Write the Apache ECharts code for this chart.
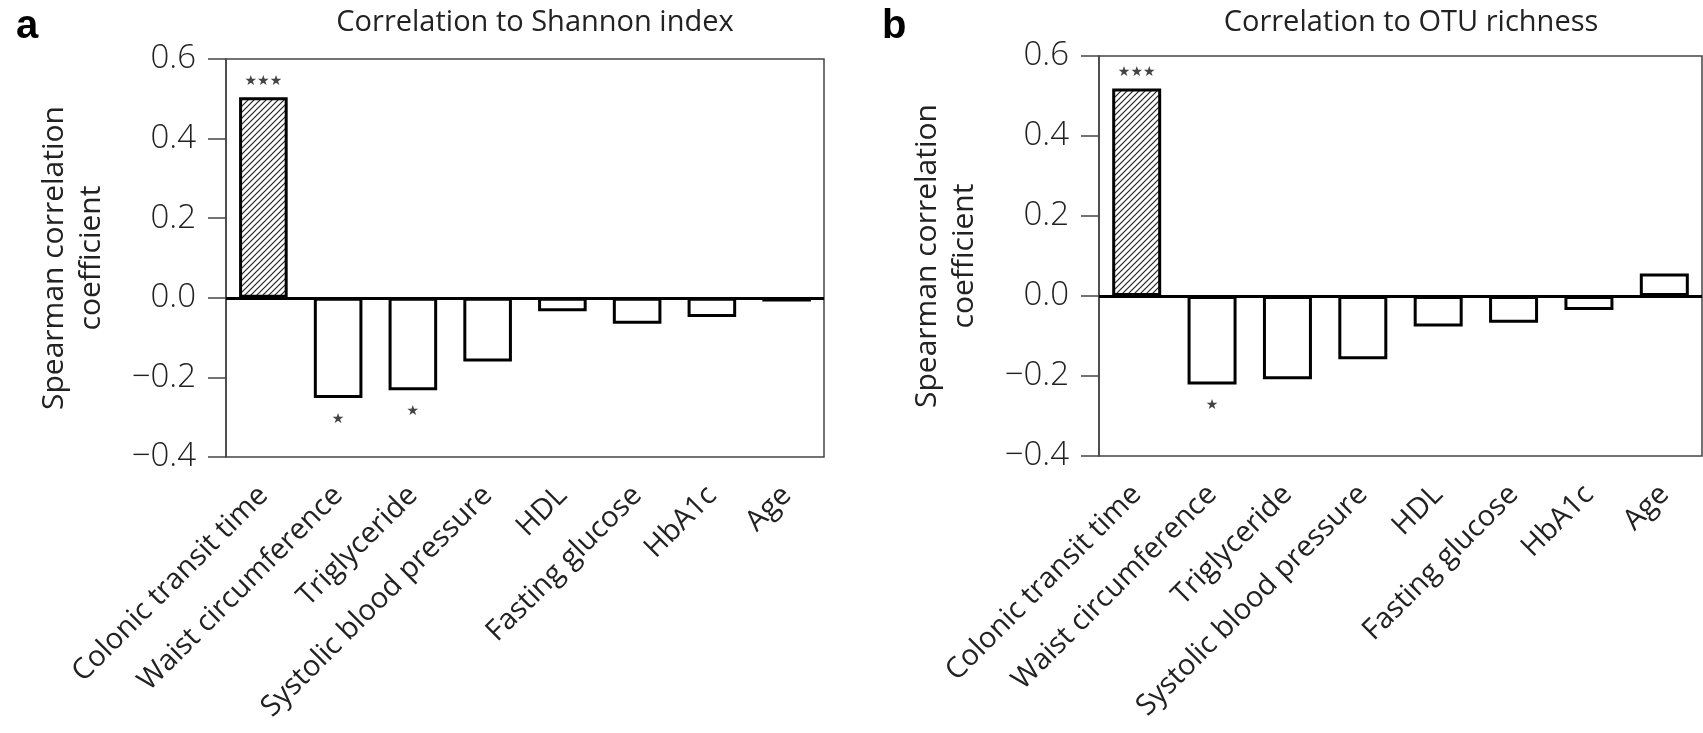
<!DOCTYPE html>
<html>
<head>
<meta charset="utf-8">
<script src="https://cdn.jsdelivr.net/npm/echarts@6/dist/echarts.min.js"></script>
<style>
  html, body { margin: 0; padding: 0; background: #fff; }
  #main { width: 1703px; height: 733px; }
</style>
</head>
<body>
<div id="main"></div>
<script>
// data
var categories = ['Colonic transit time', 'Waist circumference', 'Triglyceride', 'Systolic blood pressure',
                  'HDL', 'Fasting glucose', 'HbA1c', 'Age'];
var shannonValues = [0.504, -0.252, -0.232, -0.16, -0.034, -0.065, -0.048, -0.009];
var richnessValues = [0.519, -0.221, -0.208, -0.158, -0.076, -0.067, -0.035, 0.056];
var shannonSig = ['***', '*', '*', '', '', '', '', ''];
var richnessSig = ['***', '*', '', '', '', '', '', ''];

// hatch pattern for the first bar
function makeHatch() {
  var c = document.createElement('canvas');
  c.width = 6; c.height = 6;
  var ctx = c.getContext('2d');
  ctx.fillStyle = '#fff';
  ctx.fillRect(0, 0, 6, 6);
  ctx.strokeStyle = '#222';
  ctx.lineWidth = 1.2;
  ctx.beginPath();
  ctx.moveTo(0, 6); ctx.lineTo(6, 0);
  ctx.moveTo(-3, 3); ctx.lineTo(3, -3);
  ctx.moveTo(3, 9); ctx.lineTo(9, 3);
  ctx.stroke();
  return c;
}
var hatch = makeHatch();

var font = "'Open Sans', 'DejaVu Sans', sans-serif";

function starText(v) {
  return v.replace(/\*/g, '★');
}

function buildData(values) {
  return values.map(function (v, i) {
    var item = { value: v, label: { distance: v < 0 ? 14 : 9 } };
    if (i === 0) item.itemStyle = { color: { image: hatch, repeat: 'repeat' } };
    return item;
  });
}

function yAxisOpt(gi) {
  return {
    type: 'value', gridIndex: gi,
    min: -0.4, max: 0.6, interval: 0.2,
    name: 'Spearman correlation\ncoefficient',
    nameLocation: 'middle', nameGap: 116,
    nameTextStyle: { fontFamily: font, fontSize: 30, lineHeight: 37, color: '#222' },
    axisLine: { show: true, lineStyle: { color: '#444', width: 1.5 } },
    axisTick: { show: true, inside: false, length: 18, lineStyle: { color: '#444', width: 1.5 } },
    splitLine: { show: false },
    axisLabel: {
      margin: 30, fontFamily: font, fontSize: 33, fontWeight: 300, color: '#222',
      formatter: function (v) {
        var r = Math.round(v * 10) / 10;
        return (r < 0 ? '\u2212' : '') + Math.abs(r).toFixed(1);
      }
    }
  };
}

function xAxisOpt(gi) {
  return {
    type: 'category', gridIndex: gi, data: categories,
    axisLine: { show: false }, axisTick: { show: false },
    axisLabel: { interval: 0, rotate: 45, margin: 34, fontFamily: font, fontSize: 29, color: '#222' }
  };
}

function seriesOpt(gi, values, sig) {
  return {
    type: 'bar', xAxisIndex: gi, yAxisIndex: gi,
    data: buildData(values),
    barWidth: '65%',
    itemStyle: { color: '#fff', borderColor: '#000', borderWidth: 3 },
    label: {
      show: true, position: 'outside',
      fontFamily: "'DejaVu Sans', sans-serif", fontSize: 14, color: '#444',
      formatter: function (p) { return starText(sig[p.dataIndex]); }
    },
    markLine: {
      silent: true, symbol: 'none',
      label: { show: false },
      lineStyle: { color: '#000', width: 3, type: 'solid' },
      data: [{ yAxis: 0 }]
    }
  };
}

var myChart = echarts.init(document.getElementById('main'));
var option = {
  animation: false,
  title: [
    { text: 'a', left: 11, top: 2, textStyle: { fontFamily: "'Liberation Sans', sans-serif", fontSize: 40, fontWeight: 'bold', color: '#000' } },
    { text: 'b', left: 877, top: 2, textStyle: { fontFamily: "'Liberation Sans', sans-serif", fontSize: 40, fontWeight: 'bold', color: '#000' } },
    { text: 'Correlation to Shannon index', left: 530, top: 3, textAlign: 'center',
      textStyle: { fontFamily: font, fontSize: 29, fontWeight: 'normal', color: '#222' } },
    { text: 'Correlation to OTU richness', left: 1406, top: 3, textAlign: 'center',
      textStyle: { fontFamily: font, fontSize: 29, fontWeight: 'normal', color: '#222' } }
  ],
  grid: [
    { left: 226, right: 879, top: 59, bottom: 276, show: true, borderColor: '#444', borderWidth: 1.5, backgroundColor: 'transparent' },
    { left: 1099, right: 1, top: 56, bottom: 277, show: true, borderColor: '#444', borderWidth: 1.5, backgroundColor: 'transparent' }
  ],
  xAxis: [xAxisOpt(0), xAxisOpt(1)],
  yAxis: [yAxisOpt(0), yAxisOpt(1)],
  series: [seriesOpt(0, shannonValues, shannonSig), seriesOpt(1, richnessValues, richnessSig)]
};
myChart.setOption(option);
</script>
</body>
</html>
